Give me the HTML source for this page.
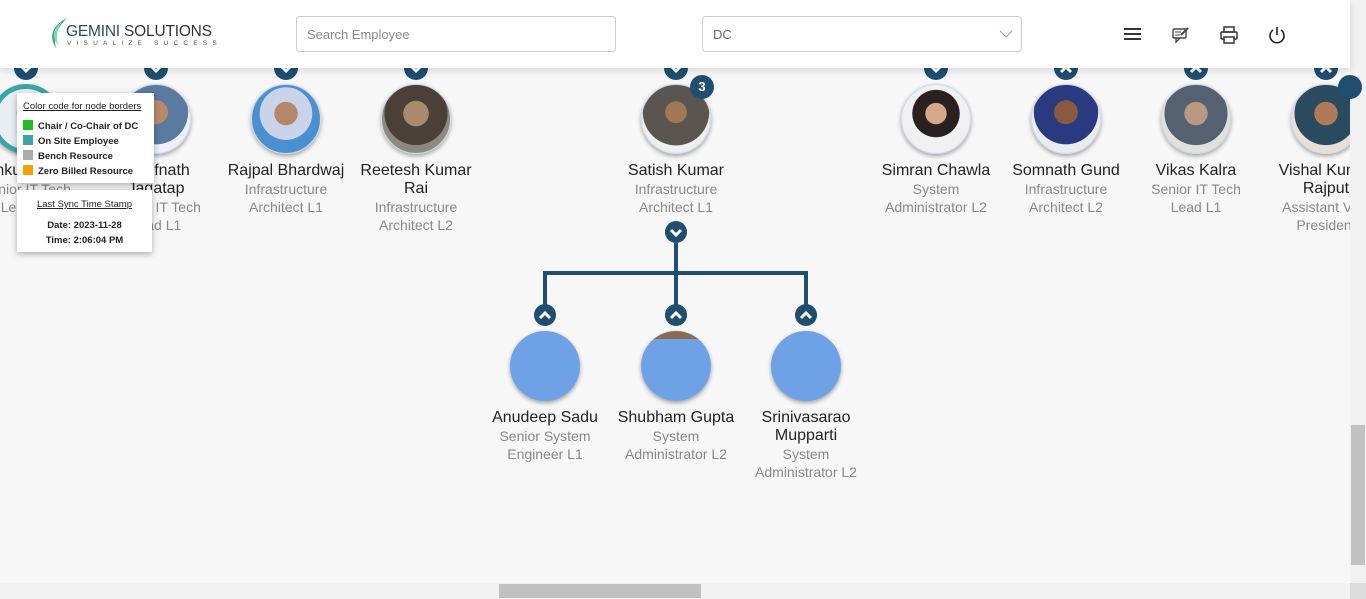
<!DOCTYPE html>
<html><head><meta charset="utf-8"><style>
*{box-sizing:border-box;margin:0;padding:0}
body{width:1366px;height:599px;overflow:hidden;background:#f7f7f7;font-family:"Liberation Sans",Arial,sans-serif;position:relative}
.hdr{position:absolute;left:0;top:0;width:1350px;height:68px;background:#fff;box-shadow:0 3px 8px rgba(0,0,0,.12);z-index:5}
.inp{position:absolute;top:16px;height:36px;border:1px solid #ccc;border-radius:4px;font-size:13px;color:#888;padding:10px 10px}
.node{position:absolute;width:130px;text-align:center}
.av{width:70px;height:70px;border-radius:50%;margin:0 auto;box-shadow:0 2px 4px rgba(0,0,0,.35);border:1px solid #cfd8e6}
.nm{font-size:16px;color:#222;line-height:18px;margin-top:8px}
.tt{font-size:14px;color:#888;line-height:18px}
.tg{position:absolute;width:24px;height:24px;border-radius:50%;background:#1f4e70;color:#fff;font-size:13px;font-weight:bold;text-align:center;line-height:24px}
.tg svg{position:absolute;left:0;top:0}
.vs{position:absolute;left:1350px;top:0;width:16px;height:583px;background:#f1f1f1}
.hs{position:absolute;left:0;top:583px;width:1350px;height:16px;background:#f1f1f1}
.leg{position:absolute;background:#fff;box-shadow:0 2px 6px rgba(0,0,0,.3);font-size:10px;color:#222;z-index:3}
.sq{display:inline-block;width:10px;height:10px;margin-right:5px;vertical-align:-1px}
</style></head><body>
<div class="hdr">
 <div style="position:absolute;left:47px;top:17px;width:22px;height:32px">
  <svg width="22" height="32"><path d="M20 1 C6 8 1 19 9 31 C6 19 11 10 20 1Z" fill="#3aa58a"/><path d="M15 5 C5 12 5 21 11 28 C9 19 10 12 15 5Z" fill="#8ad6b0"/></svg>
 </div>
 <div style="position:absolute;left:66px;top:23px;font-size:15.5px;color:#2b4a6b;letter-spacing:-0.2px">GEMINI <span style="color:#333">SOLUTIONS</span></div>
 <div style="position:absolute;left:67px;top:40px;font-size:6.5px;color:#555;letter-spacing:5.2px">VISUALIZE SUCCESS</div>
 <div class="inp" style="left:296px;width:320px">Search Employee</div>
 <div class="inp" style="left:702px;width:320px;color:#666">DC<svg style="position:absolute;right:8px;top:12px" width="14" height="10"><path d="M1 2 L7 8 L13 2" stroke="#999" fill="none"/></svg></div>
 <svg style="position:absolute;left:1124px;top:27px" width="18" height="14"><path d="M0 2H17M0 7H17M0 12H17" stroke="#333" stroke-width="2"/></svg>
 <svg style="position:absolute;left:1172px;top:26px" width="18" height="18"><rect x="1" y="3" width="13" height="9" rx="1" fill="none" stroke="#444" stroke-width="1.4"/><path d="M4 12 L4 16 L8 12" fill="none" stroke="#444" stroke-width="1.3"/><path d="M9 9 L16 2" stroke="#444" stroke-width="2"/><path d="M3 6H9M3 9H8" stroke="#444"/></svg>
 <svg style="position:absolute;left:1220px;top:26px" width="18" height="18"><rect x="4" y="1" width="10" height="5" fill="none" stroke="#333" stroke-width="1.5"/><rect x="1" y="6" width="16" height="7" rx="1" fill="none" stroke="#333" stroke-width="1.5"/><rect x="4" y="11" width="10" height="6" fill="#fff" stroke="#333" stroke-width="1.5"/></svg>
 <svg style="position:absolute;left:1268px;top:26px" width="18" height="18"><path d="M5 4 A7 7 0 1 0 13 4" fill="none" stroke="#222" stroke-width="1.6"/><path d="M9 1V9" stroke="#222" stroke-width="1.6"/></svg>
</div>

<!-- top toggles -->
<div class="tg" style="left:14px;top:56px"><svg width="24" height="24"><path d="M7 10 L12 15 L17 10" stroke="#fff" stroke-width="3" fill="none"/></svg></div>
<div class="tg" style="left:144px;top:56px"><svg width="24" height="24"><path d="M7 10 L12 15 L17 10" stroke="#fff" stroke-width="3" fill="none"/></svg></div>
<div class="tg" style="left:274px;top:56px"><svg width="24" height="24"><path d="M7 10 L12 15 L17 10" stroke="#fff" stroke-width="3" fill="none"/></svg></div>
<div class="tg" style="left:404px;top:56px"><svg width="24" height="24"><path d="M7 10 L12 15 L17 10" stroke="#fff" stroke-width="3" fill="none"/></svg></div>
<div class="tg" style="left:664px;top:56px"><svg width="24" height="24"><path d="M7 10 L12 15 L17 10" stroke="#fff" stroke-width="3" fill="none"/></svg></div>
<div class="tg" style="left:924px;top:56px"><svg width="24" height="24"><path d="M7 10 L12 15 L17 10" stroke="#fff" stroke-width="3" fill="none"/></svg></div>
<div class="tg" style="left:1054px;top:56px"><svg width="24" height="24"><path d="M7 16 L12 11 L17 16" stroke="#fff" stroke-width="3" fill="none"/></svg></div>
<div class="tg" style="left:1184px;top:56px"><svg width="24" height="24"><path d="M7 16 L12 11 L17 16" stroke="#fff" stroke-width="3" fill="none"/></svg></div>
<div class="tg" style="left:1314px;top:56px"><svg width="24" height="24"><path d="M7 16 L12 11 L17 16" stroke="#fff" stroke-width="3" fill="none"/></svg></div>
<div class="tg" style="left:1338px;top:75px;z-index:2"></div>

<div class="node" style="left:-39px;top:84px"><div class="av" style="border:5px solid #3aa5a5;background:radial-gradient(circle at 50% 40%,#c9a58a 0 20%,#e8eef4 21%)"></div><div class="nm">Sankul Kumar</div><div class="tt">Senior IT Tech<br>Lead L1</div></div>
<div class="node" style="left:91px;top:84px"><div class="av" style="background:radial-gradient(circle at 50% 40%,#b88a6a 0 22%,#5a7aa0 23% 60%,#eef 61%)"></div><div class="nm">Kanifnath<br>Jagatap</div><div class="tt">Senior IT Tech<br>Lead L1</div></div>
<div class="node" style="left:221px;top:84px"><div class="av" style="background:radial-gradient(circle at 50% 42%,#b5876a 0 22%,#c9d4ea 23% 50%,#4a90d0 51%)"></div><div class="nm">Rajpal Bhardwaj</div><div class="tt">Infrastructure<br>Architect L1</div></div>
<div class="node" style="left:351px;top:84px"><div class="av" style="background:radial-gradient(circle at 50% 42%,#a98a6c 0 24%,#4a4038 25% 60%,#8b8a80 61%)"></div><div class="nm">Reetesh Kumar<br>Rai</div><div class="tt">Infrastructure<br>Architect L2</div></div>
<div class="node" style="left:611px;top:84px"><div class="av" style="background:radial-gradient(circle at 50% 40%,#a07858 0 20%,#5a5550 21% 62%,#eceef0 63%)"></div><div class="nm">Satish Kumar</div><div class="tt">Infrastructure<br>Architect L1</div></div>
<div class="tg" style="left:690px;top:75px">3</div>
<div class="node" style="left:871px;top:84px"><div class="av" style="background:radial-gradient(circle at 50% 42%,#d8a88a 0 20%,#2a2020 21% 45%,#f0f0f0 46%)"></div><div class="nm">Simran Chawla</div><div class="tt">System<br>Administrator L2</div></div>
<div class="node" style="left:1001px;top:84px"><div class="av" style="background:radial-gradient(circle at 50% 40%,#8a5a40 0 22%,#2a3a80 23% 60%,#e8ecf0 61%)"></div><div class="nm">Somnath Gund</div><div class="tt">Infrastructure<br>Architect L2</div></div>
<div class="node" style="left:1131px;top:84px"><div class="av" style="background:radial-gradient(circle at 50% 42%,#b89880 0 22%,#556070 23% 60%,#e0e0dc 61%)"></div><div class="nm">Vikas Kalra</div><div class="tt">Senior IT Tech<br>Lead L1</div></div>
<div class="node" style="left:1261px;top:84px"><div class="av" style="background:radial-gradient(circle at 50% 42%,#b07a5a 0 22%,#2a4a60 23% 60%,#e8e0d8 61%)"></div><div class="nm">Vishal Kumar<br>Rajput</div><div class="tt">Assistant Vice<br>President</div></div>

<!-- connector -->
<svg style="position:absolute;left:0;top:0" width="1366" height="599">
 <path d="M676 243 V273 M545 273 H806 M545 271 V305 M676 273 V305 M806 271 V305" stroke="#1f4e70" stroke-width="4" fill="none"/>
 <g fill="#1f4e70"><circle cx="676" cy="232" r="11"/><circle cx="545" cy="315" r="11"/><circle cx="676" cy="315" r="11"/><circle cx="806" cy="315" r="11"/></g>
 <g stroke="#fff" stroke-width="3" fill="none"><path d="M671 230 L676 235 L681 230"/><path d="M540 318 L545 313 L550 318"/><path d="M671 318 L676 313 L681 318"/><path d="M801 318 L806 313 L811 318"/></g>
</svg>

<div class="node" style="left:480px;top:331px"><div class="av" style="background:#6ea1e6;border:none"></div><div class="nm">Anudeep Sadu</div><div class="tt">Senior System<br>Engineer L1</div></div>
<div class="node" style="left:611px;top:331px"><div class="av" style="background:linear-gradient(#8a6a50 0 8px,#6ea1e6 8px);border:none"></div><div class="nm">Shubham Gupta</div><div class="tt">System<br>Administrator L2</div></div>
<div class="node" style="left:741px;top:331px"><div class="av" style="background:#6ea1e6;border:none"></div><div class="nm">Srinivasarao<br>Mupparti</div><div class="tt">System<br>Administrator L2</div></div>

<!-- legend -->
<div class="leg" style="left:17px;top:93px;width:137px;height:90px;padding:8px 6px">
 <div style="text-decoration:underline;font-size:9.5px;margin-bottom:7px">Color code for node borders</div>
 <div style="font-weight:bold;font-size:9.5px;line-height:15px"><span class="sq" style="background:#22bb22"></span>Chair / Co-Chair of DC<br><span class="sq" style="background:#3aa5a5"></span>On Site Employee<br><span class="sq" style="background:#aaa"></span>Bench Resource<br><span class="sq" style="background:#f5a000"></span>Zero Billed Resource</div>
</div>
<div class="leg" style="left:17px;top:190px;width:135px;height:62px;text-align:center;padding-top:9px;font-size:9.5px">
 <div style="text-decoration:underline;margin-bottom:8px">Last Sync Time Stamp</div>
 <div style="font-weight:bold;line-height:15px">Date: 2023-11-28<br>Time: 2:06:04 PM</div>
</div>

<div class="vs"><div style="position:absolute;left:1px;top:425px;width:14px;height:140px;background:#c1c1c1"></div></div>
<div class="hs"><div style="position:absolute;left:499px;top:1px;width:202px;height:14px;background:#c1c1c1"></div></div>
<div style="position:absolute;left:1350px;top:583px;width:16px;height:16px;background:#dcdcdc"></div>
</body></html>
